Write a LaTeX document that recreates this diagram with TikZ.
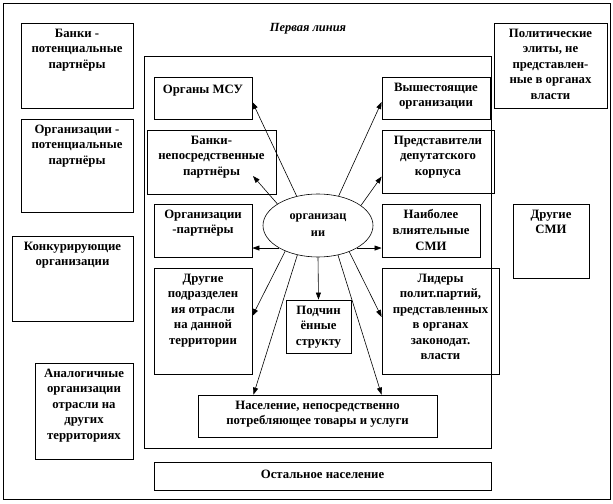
\documentclass[tikz,border=0pt]{standalone}
\usepackage{fontspec}
\setmainfont{Liberation Serif}
\usetikzlibrary{arrows.meta,shapes.geometric}
\begin{document}
\begin{tikzpicture}[x=1bp,y=-1bp,
    block/.style ={draw, line width=0.8bp, inner sep=0pt},
    caption/.style ={anchor=north, align=center, inner xsep=0pt, inner ysep=6bp,
      font=\bfseries\fontsize{12.8}{15.6}\selectfont, execute at begin node=\strut},
    arr/.style ={-{Triangle[length=7bp,width=5bp]}, line width=0.6bp}]
   \useasboundingbox (0,0) rectangle (613,504);
   % frames
   \node[block, minimum width=607bp, minimum height=496bp] (outer) at (306.5,251) {};
   \node[block, minimum width=347bp, minimum height=392bp] (inner) at (317.5,252) {};
   \node[font=\bfseries\itshape\fontsize{12.5}{14}\selectfont] (title) at (308,29) {Первая линия};
   % outer boxes
   \node[block, minimum width=112bp, minimum height=85bp] (bp) at (77,65.5) {};
   \node[block, minimum width=112bp, minimum height=93bp] (op) at (77,165.5) {};
   \node[block, minimum width=121bp, minimum height=85bp] (konk) at (72.5,278.5) {};
   \node[block, minimum width=98bp, minimum height=96bp] (anal) at (84,411) {};
   \node[block, minimum width=113bp, minimum height=85bp] (pol) at (550.5,65.5) {};
   \node[block, minimum width=76bp, minimum height=74bp] (dsmi) at (551,241) {};
   \node[block, minimum width=337bp, minimum height=28bp] (rest) at (322.5,476) {};
   % inner boxes
   \node[block, minimum width=98bp, minimum height=42bp] (msu) at (203,98) {};
   \node[block, minimum width=108bp, minimum height=42bp] (vysh) at (436,98) {};
   \node[block, minimum width=129bp, minimum height=64bp] (bnp) at (211.5,162) {};
   \node[block, minimum width=112bp, minimum height=63bp] (pred) at (438,161.5) {};
   \node[block, minimum width=98bp, minimum height=53bp] (orgp) at (203,230.5) {};
   \node[block, minimum width=98bp, minimum height=53bp] (smi) at (431,230.5) {};
   \node[block, minimum width=98bp, minimum height=106bp] (dp) at (203,321) {};
   \node[block, minimum width=65bp, minimum height=53bp] (sub) at (318.5,326.5) {};
   \node[block, minimum width=117bp, minimum height=106bp] (lid) at (440.5,321) {};
   \node[block, minimum width=239bp, minimum height=42bp] (pop) at (317.5,416) {};
   \node[ellipse, draw, line width=0.6bp, fill=white, minimum width=110bp, minimum height=63bp,
     inner sep=0pt, align=center, font=\bfseries\fontsize{12.3}{17}\selectfont] (org) at (318,225.5) {организац\\ии};
   % texts
   \node[caption] (bp-t) at (bp.north) {Банки -\\потенциальные\\партнёры};
   \node[caption] (op-t) at (op.north) {Организации -\\потенциальные\\партнёры};
   \node[caption] (konk-t) at (konk.north) {Конкурирующие\\организации};
   \node[caption] (anal-t) at (anal.north) {Аналогичные\\организации\\отрасли на\\других\\территориях};
   \node[caption] (pol-t) at (pol.north) {Политические\\элиты, не\\представлен-\\ные в органах\\власти};
   \node[caption] (dsmi-t) at (dsmi.north) {Другие\\СМИ};
   \node[caption] (rest-t) at (rest.north) {Остальное население};
   \node[caption] (msu-t) at (msu.north) {Органы МСУ};
   \node[caption] (vysh-t) at (vysh.north) {Вышестоящие\\организации};
   \node[caption] (bnp-t) at (bnp.north) {Банки-\\непосредственные\\партнёры};
   \node[caption] (pred-t) at (pred.north) {Представители\\депутатского\\корпуса};
   \node[caption] (orgp-t) at (orgp.north) {Организации\\-партнёры};
   \node[caption] (smi-t) at (smi.north) {Наиболее\\влиятельные\\СМИ};
   \node[caption] (dp-t) at (dp.north) {Другие\\подразделен\\ия отрасли\\на данной\\территории};
   \node[caption] (sub-t) at (sub.north) {Подчин\\ённые\\структу};
   \node[caption] (lid-t) at (lid.north) {Лидеры\\полит.партий,\\представленных\\в органах\\законодат.\\власти};
   \node[caption] (pop-t) at (pop.north) {Население, непосредственно\\потребляющее товары и услуги};
   % arrows
   \coordinate (bnp tip) at (253,176);
   \draw[arr] (org.126) -- ([yshift=-4bp]msu.east);
   \draw[arr] (org.55) -- ([yshift=-4bp]vysh.west);
   \draw[arr] (org.152) -- (bnp tip);
   \draw[arr] (org.25) -- ([yshift=-15bp]pred.west);
   \draw[arr] (org.210) -- (org.210 -| orgp.east);
   \draw[arr] (org.-30) -- (org.-30 -| smi.west);
   \draw[arr] (org.south) -- (sub.north);
   \draw[arr] (org.218) -- ([yshift=5bp]dp.east);
   \draw[arr] (org.320) -- ([yshift=4bp]lid.west);
   \draw[arr] (org.235) -- ([xshift=-64bp]pop.north);
   \draw[arr] (org.304) -- ([xshift=64bp]pop.north);
 \end{tikzpicture}
\end{document}
